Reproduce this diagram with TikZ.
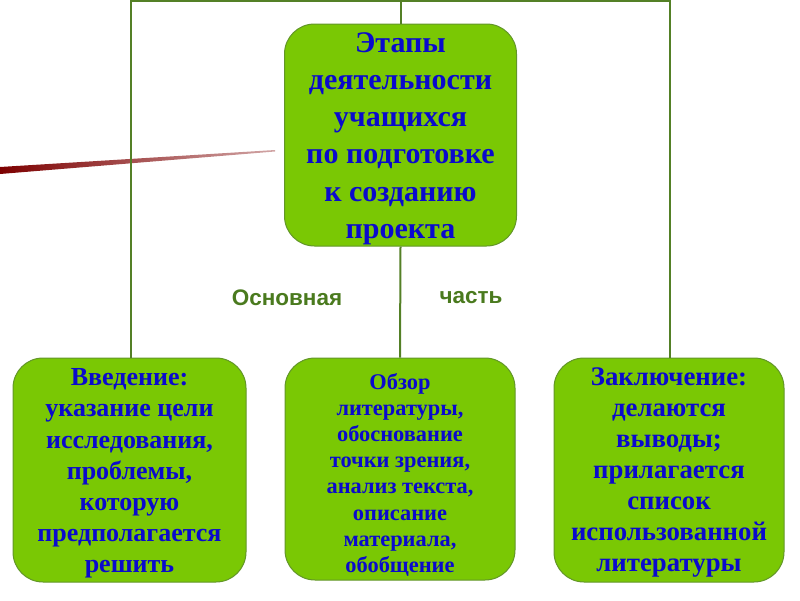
\documentclass[tikz,border=0pt]{standalone}
\usepackage{fontspec}
\setmainfont{Liberation Serif}
\newfontfamily\labelfont{Liberation Sans}
\usepackage{tikz}
\usetikzlibrary{positioning}
\definecolor{boxfill}{RGB}{122,200,4}
\definecolor{boxline}{RGB}{98,150,40}
\definecolor{linkline}{RGB}{84,128,38}
\definecolor{textblue}{RGB}{10,10,205}
\definecolor{labelgreen}{RGB}{74,122,30}
\definecolor{stripe}{RGB}{125,0,0}
% #1 width, #2 height, #3 first baseline from the top, #4 lines
\newcommand\boxlines[4]{\begin{minipage}[c][#2][t]{#1}\centering\rule{0pt}{#3}#4\end{minipage}}
\tikzset{
  stagebox/.style={draw=boxline,line width=1pt,fill=boxfill,rounded corners=30pt,
    text=textblue,inner sep=0pt},
  link/.style={draw=linkline,line width=2pt},
  partlabel/.style={text=labelgreen,font=\labelfont\bfseries\fontsize{22.5}{26}\selectfont}
}

\begin{document}
\begin{tikzpicture}[x=1pt,y=-1pt]
      \useasboundingbox (0,0) rectangle (800,600);
      \shade [left color=stripe,right color=stripe!35] (0,167) -- (275,150) -- (275,151.5) -- (0,174) -- cycle;
      \node [stagebox,font=\bfseries\fontsize{30}{37.2}\selectfont] (stages) at (400.5,135)
        {\boxlines{232pt}{222pt}{28.3pt}{Этапы\\ деятельности\\ учащихся\\ по подготовке\\ к созданию\\ проекта}};
      \node [stagebox,font=\bfseries\fontsize{26}{31.2}\selectfont] (intro) at (129.5,470)
        {\boxlines{233pt}{224pt}{27.7pt}{Введение:\\ указание цели\\ исследования,\\ проблемы,\\ которую\\ предполагается\\ решить}};
      \node [stagebox,font=\bfseries\fontsize{22.4}{26.1}\selectfont] (review) at (400,469)
        {\boxlines{230pt}{222pt}{31.5pt}{Обзор\\ литературы,\\ обоснование\\ точки зрения,\\ анализ текста,\\ описание\\ материала,\\ обобщение}};
      \node [stagebox,font=\bfseries\fontsize{26.8}{30.9}\selectfont] (summary) at (669,470)
        {\boxlines{230pt}{224pt}{27.7pt}{Заключение:\\ делаются\\ выводы;\\ прилагается\\ список\\ использованной\\ литературы}};
      \coordinate (topleft) at (131,1);
      \coordinate (topright) at (670,1);
      \draw [link] (intro.north -| topleft) -- (topleft) -- (topright) -- (summary.north -| topright);
      \draw [link] (stages.north |- topleft) -- (stages.north);
      \draw [link] (stages.south) -- (review.north);
      \node [partlabel] (mainword) at (287,298) {Основная};
      \node [partlabel] (partword) at (471,298) {часть};
    \end{tikzpicture}
\end{document}
